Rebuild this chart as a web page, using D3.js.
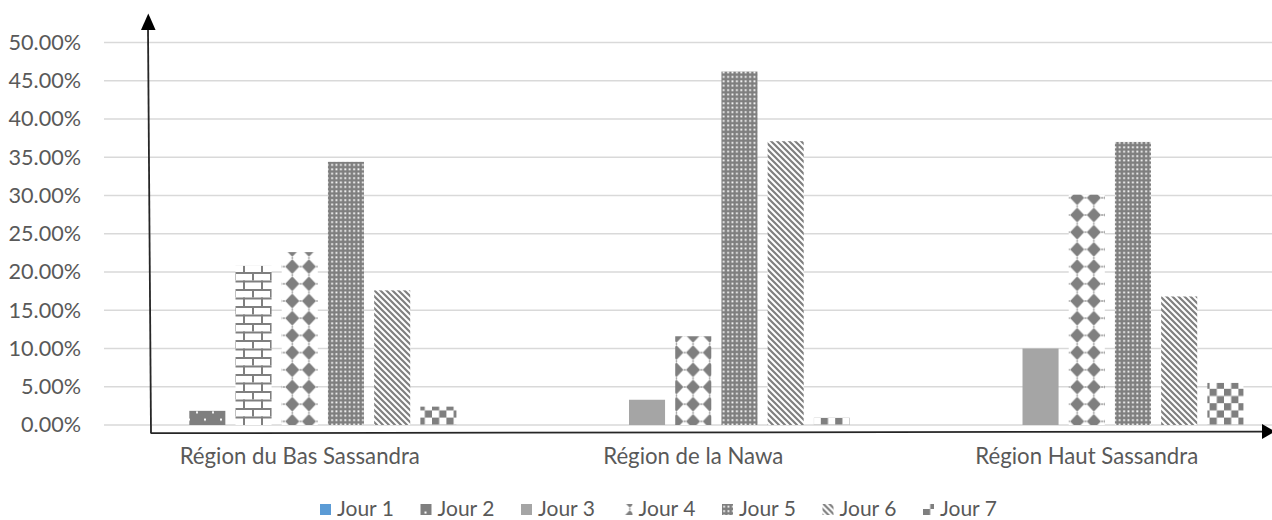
<!DOCTYPE html>
<html>
<head>
<meta charset="utf-8">
<script src="https://cdn.jsdelivr.net/npm/d3@7"></script>
<style>
  html, body { margin: 0; padding: 0; background: #fff; }
  svg { display: block; }
  text { font-family: Lato, "Open Sans", sans-serif; fill: #595959; }
</style>
</head>
<body>
<svg id="chart" width="1272" height="520"></svg>
<script>
// Regions on the category axis
const categories = ["Région du Bas Sassandra", "Région de la Nawa", "Région Haut Sassandra"];
// Series (days)
const seriesNames = ["Jour 1", "Jour 2", "Jour 3", "Jour 4", "Jour 5", "Jour 6", "Jour 7"];
// Percent values per day, one entry per region
const jour1 = [0, 0, 0];
const jour2 = [1.85, 0, 0];
const jour3 = [20.8, 3.3, 10.0];
const jour4 = [22.6, 11.6, 30.1];
const jour5 = [34.4, 46.2, 37.0];
const jour6 = [17.6, 37.1, 16.8];
const jour7 = [2.4, 0.95, 5.5];
// Value axis ticks
const yTickValues = [0, 5, 10, 15, 20, 25, 30, 35, 40, 45, 50];
const yTickLabels = ["0.00%", "5.00%", "10.00%", "15.00%", "20.00%", "25.00%", "30.00%", "35.00%", "40.00%", "45.00%", "50.00%"];

const seriesValues = [jour1, jour2, jour3, jour4, jour5, jour6, jour7];

const svg = d3.select("#chart");
const defs = svg.append("defs");
const FG = "#7f7f7f";

// ---------- pattern fills ----------
function pattern(id, w, h, build) {
  const p = defs.append("pattern")
    .attr("id", id).attr("patternUnits", "userSpaceOnUse")
    .attr("width", w).attr("height", h);
  build(p);
}
// Jour 2: dark with sparse white dots
pattern("p-dots", 16, 14.6, p => {
  p.append("rect").attr("width", 16).attr("height", 14.6).attr("fill", FG);
  p.append("rect").attr("x", 4).attr("y", 2.5).attr("width", 2).attr("height", 2).attr("fill", "#fff");
  p.append("rect").attr("x", 12).attr("y", 9.8).attr("width", 2).attr("height", 2).attr("fill", "#fff");
});
// horizontal brick
pattern("p-brick", 18, 17, p => {
  p.append("rect").attr("width", 18).attr("height", 17).attr("fill", "#fff");
  p.append("rect").attr("x", 0).attr("y", 0).attr("width", 18).attr("height", 2).attr("fill", FG);
  p.append("rect").attr("x", 0).attr("y", 8.5).attr("width", 18).attr("height", 2).attr("fill", FG);
  p.append("rect").attr("x", 0).attr("y", 0).attr("width", 2).attr("height", 8.5).attr("fill", FG);
  p.append("rect").attr("x", 9).attr("y", 8.5).attr("width", 2).attr("height", 8.5).attr("fill", FG);
});
// solid diamonds with small dots between them
pattern("p-diamond", 16.7, 17.2, p => {
  p.append("rect").attr("width", 16.7).attr("height", 17.2).attr("fill", "#fff");
  p.append("path").attr("d", "M8.35,1.3 L10.4,3.4 L15.4,8.6 L10.4,13.8 L8.35,15.9 L6.3,13.8 L1.3,8.6 L6.3,3.4 Z").attr("fill", FG);
  p.append("rect").attr("x", -0.8).attr("y", 7.9).attr("width", 1.6).attr("height", 1.4).attr("fill", FG);
  p.append("rect").attr("x", 15.9).attr("y", 7.9).attr("width", 1.6).attr("height", 1.4).attr("fill", FG);
  p.append("rect").attr("x", 7.65).attr("y", -0.7).attr("width", 1.4).attr("height", 1.4).attr("fill", FG);
  p.append("rect").attr("x", 7.65).attr("y", 16.5).attr("width", 1.4).attr("height", 1.4).attr("fill", FG);
});
// dense grid of white dots on grey
pattern("p-grid", 4.4, 4.4, p => {
  p.append("rect").attr("width", 4.4).attr("height", 4.4).attr("fill", FG);
  p.append("rect").attr("x", 1.2).attr("y", 1.2).attr("width", 1.8).attr("height", 1.8).attr("fill", "#fff");
});
// downward diagonal stripes
pattern("p-diag", 6, 6, p => {
  p.append("rect").attr("width", 6).attr("height", 6).attr("fill", "#fff");
  p.append("path").attr("d", "M-1.5,-1.5 L7.5,7.5 M-1.5,4.5 L1.5,7.5 M4.5,-1.5 L7.5,1.5")
    .attr("stroke", FG).attr("stroke-width", 2.2);
});
// large checkerboard
pattern("p-check", 14.4, 14.4, p => {
  p.append("rect").attr("width", 14.4).attr("height", 14.4).attr("fill", "#fff");
  p.append("rect").attr("x", 0).attr("y", 0).attr("width", 7.2).attr("height", 7.2).attr("fill", FG);
  p.append("rect").attr("x", 7.2).attr("y", 7.2).attr("width", 7.2).attr("height", 7.2).attr("fill", FG);
});

const seriesFill = ["#5b9bd5", "url(#p-dots)", "#a5a5a5", "url(#p-diamond)", "url(#p-grid)", "url(#p-diag)", "url(#p-check)"];
// single data point with its own fill: Jour 3 in the first region
function fillFor(si, ci) {
  if (si === 2 && ci === 0) return "url(#p-brick)";
  return seriesFill[si];
}

// ---------- scales ----------
const plotLeft = 103, bandStep = 393.5;
const x0 = d3.scaleBand().domain(categories)
  .range([plotLeft, plotLeft + bandStep * categories.length]).padding(0);
const x1 = d3.scaleBand().domain(seriesNames)
  .range([35, bandStep - 35]).paddingInner(0.22).paddingOuter(0.11);
const y = d3.scaleLinear().domain([0, 50]).range([425, 42.5]);

// ---------- gridlines ----------
svg.append("g")
  .selectAll("line").data(yTickValues).join("line")
  .attr("x1", plotLeft + 1).attr("x2", 1272)
  .attr("y1", d => y(d)).attr("y2", d => y(d))
  .attr("stroke", "#d9d9d9").attr("stroke-width", 1.4);

// ---------- value axis labels ----------
const yAxis = d3.axisLeft(y).tickValues(yTickValues)
  .tickFormat((d, i) => yTickLabels[i]).tickSize(0).tickPadding(0);
const gy = svg.append("g").attr("transform", "translate(81,0)").call(yAxis);
gy.select(".domain").remove();
gy.selectAll("text").attr("font-size", 21.6).attr("fill", "#595959")
  .attr("font-family", "Lato, sans-serif");

// ---------- bars ----------
const cells = [];
seriesValues.forEach((vals, si) => vals.forEach((v, ci) => cells.push({ si, ci, v })));
svg.append("g").selectAll("rect").data(cells.filter(c => c.v > 0)).join("rect")
  .attr("x", d => x0(categories[d.ci]) + x1(seriesNames[d.si]))
  .attr("y", d => y(d.v))
  .attr("width", x1.bandwidth())
  .attr("height", d => y(0) - y(d.v))
  .attr("fill", d => fillFor(d.si, d.ci));

// ---------- category labels ----------
const xAxis = d3.axisBottom(x0).tickSize(0).tickPadding(0);
const gx = svg.append("g").attr("transform", "translate(0,448)").call(xAxis);
gx.select(".domain").remove();
gx.selectAll("text").attr("font-size", 22.2).attr("fill", "#595959")
  .attr("font-family", "Lato, sans-serif");

// ---------- arrow axes ----------
svg.append("path").attr("d", "M151,433 L148,29").attr("stroke", "#262626").attr("stroke-width", 1.8).attr("fill", "none");
svg.append("path").attr("d", "M141,30 L148.3,13.5 L155.6,30 Z").attr("fill", "#000");
svg.append("path").attr("d", "M150.5,433.2 L1262,431.6").attr("stroke", "#262626").attr("stroke-width", 1.8).attr("fill", "none");
svg.append("path").attr("d", "M1262,424 L1275,431.4 L1262,439 Z").attr("fill", "#000");

// ---------- legend ----------
const legend = svg.append("g").attr("transform", "translate(320,509)");
const li = legend.selectAll("g").data(seriesNames).join("g")
  .attr("transform", (d, i) => `translate(${i * 100.5},0)`);
li.append("rect").attr("x", 0).attr("y", -5).attr("width", 11).attr("height", 11)
  .attr("fill", (d, i) => seriesFill[i]);
li.append("text").attr("x", 17).attr("y", 0).attr("dy", "0.35em")
  .attr("font-size", 21).text(d => d);
</script>
</body>
</html>
